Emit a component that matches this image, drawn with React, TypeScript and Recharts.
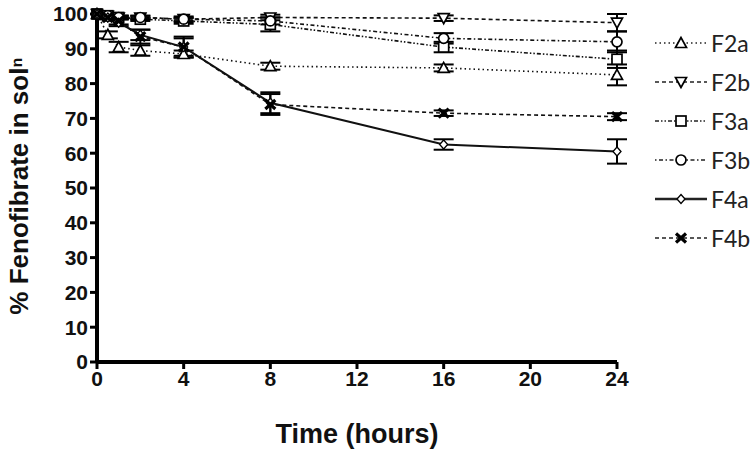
import React from 'react';
import { LineChart, Line, XAxis, YAxis, ErrorBar } from 'recharts';

const times = [0, 0.5, 1, 2, 4, 8, 16, 24];
const xTicks = [0, 4, 8, 12, 16, 20, 24];
const yTicks = [0, 10, 20, 30, 40, 50, 60, 70, 80, 90, 100];

const f2a = [100, 94, 90.5, 89.5, 88.5, 85, 84.5, 82.5];
const f2aErr = [0, 1, 1.5, 1.5, 1, 1, 1, 3];
const f2b = [100, 99.5, 99, 99, 98.5, 99, 98.8, 97.5];
const f2bErr = [0, 0.5, 0.5, 0.5, 0.5, 0.8, 0.8, 2.5];
const f3a = [100, 99.5, 99, 98.5, 98, 97, 90.5, 87];
const f3aErr = [0, 0.5, 0.5, 0.5, 0.8, 2, 1.5, 2.5];
const f3b = [100, 99.5, 99, 99, 98.5, 98, 93, 92];
const f3bErr = [0, 0.5, 0.5, 0.5, 0.8, 1, 1.5, 3];
const f4a = [100, 99, 97.5, 94, 90.5, 74.5, 62.5, 60.5];
const f4aErr = [0, 0.5, 1, 1.5, 2.5, 3, 1.5, 3.5];
const f4b = [100, 99, 98, 93.5, 90.5, 74, 71.5, 70.5];
const f4bErr = [0, 0.5, 1, 2, 3, 3, 0.8, 1];

const data = times.map((t, i) => ({
  t,
  f2a: f2a[i], f2aErr: f2aErr[i],
  f2b: f2b[i], f2bErr: f2bErr[i],
  f3a: f3a[i], f3aErr: f3aErr[i],
  f3b: f3b[i], f3bErr: f3bErr[i],
  f4a: f4a[i], f4aErr: f4aErr[i],
  f4b: f4b[i], f4bErr: f4bErr[i],
}));

type Shape = 'triUp' | 'triDown' | 'square' | 'circle' | 'diamond' | 'cross';

const series: { key: string; name: string; shape: Shape; dash: string }[] = [
  { key: 'f2a', name: 'F2a', shape: 'triUp', dash: '1.5 3' },
  { key: 'f2b', name: 'F2b', shape: 'triDown', dash: '4 3' },
  { key: 'f3a', name: 'F3a', shape: 'square', dash: '4 2 1.5 2 1.5 2' },
  { key: 'f3b', name: 'F3b', shape: 'circle', dash: '1.5 2.5 4 2.5' },
  { key: 'f4a', name: 'F4a', shape: 'diamond', dash: '' },
  { key: 'f4b', name: 'F4b', shape: 'cross', dash: '4 3' },
];

// open black-outlined markers, drawn by hand since recharts has no such symbols
const Marker = ({ cx, cy, shape }: { cx: number; cy: number; shape: Shape }) => {
  const s = 5.5;
  const common = { fill: '#fff', stroke: '#000', strokeWidth: 1.7 };
  switch (shape) {
    case 'triUp':
      return <polygon points={`${cx},${cy - s} ${cx - s},${cy + s - 1} ${cx + s},${cy + s - 1}`} {...common} />;
    case 'triDown':
      return <polygon points={`${cx},${cy + s} ${cx - s},${cy - s + 1} ${cx + s},${cy - s + 1}`} {...common} />;
    case 'square':
      return <rect x={cx - s + 0.5} y={cy - s + 0.5} width={2 * s - 1} height={2 * s - 1} {...common} />;
    case 'circle':
      return <circle cx={cx} cy={cy} r={s - 0.5} {...common} />;
    case 'diamond':
      return <polygon points={`${cx},${cy - 4.5} ${cx + 4},${cy} ${cx},${cy + 4.5} ${cx - 4},${cy}`} {...common} strokeWidth={1.3} />;
    case 'cross':
      return (
        <g stroke="#000" strokeWidth={3.2}>
          <line x1={cx - 5} y1={cy - 4.5} x2={cx + 5} y2={cy + 4.5} />
          <line x1={cx - 5} y1={cy + 4.5} x2={cx + 5} y2={cy - 4.5} />
        </g>
      );
  }
  return null;
};

const ChartLegend = () => (
  <div style={{ position: 'absolute', left: 653, top: 23, fontFamily: 'Lato, sans-serif', fontSize: 23, color: '#222' }}>
    {series.map((s) => (
      <div key={s.key} style={{ display: 'flex', alignItems: 'center', height: 39 }}>
        <svg width={56} height={20}>
          <line x1={2} y1={10} x2={54} y2={10} stroke="#222" strokeWidth={s.dash ? 1.5 : 2.5} strokeDasharray={s.dash} />
          <Marker cx={28} cy={10} shape={s.shape} />
        </svg>
        <span style={{ marginLeft: 2 }}>{s.name}</span>
      </div>
    ))}
  </div>
);

const YLabel = () => (
  <text
    x={19}
    y={186}
    transform="rotate(-90 19 186)"
    textAnchor="middle"
    dominantBaseline="central"
    fontFamily="'Liberation Sans', Arial, sans-serif"
    fontWeight="bold"
    fontSize={26}
    fill="#111"
  >
    % Fenofibrate in solⁿ
  </text>
);

const tickStyle = { fontFamily: "'Liberation Sans', Arial, sans-serif", fontWeight: 'bold', fontSize: 21, fill: '#111' };

export default function App() {
  return (
    <div style={{ position: 'absolute', left: 0, top: 0, width: 756, height: 449, background: '#fff' }}>
      <LineChart width={756} height={449} data={data} margin={{ top: 14, right: 139, bottom: 0, left: 0 }}>
        <XAxis
          dataKey="t"
          type="number"
          domain={[0, 24]}
          ticks={xTicks}
          interval={0}
          axisLine={{ stroke: '#000', strokeWidth: 4 }}
          tickLine={{ stroke: '#000', strokeWidth: 3 }}
          tickSize={7}
          tickMargin={2}
          tick={tickStyle}
          height={87}
          label={{
            value: 'Time (hours)',
            position: 'insideBottom',
            offset: 6,
            style: { fontFamily: "'Liberation Sans', Arial, sans-serif", fontWeight: 'bold', fontSize: 27, fill: '#111' },
          }}
        />
        <YAxis
          type="number"
          domain={[0, 100]}
          ticks={yTicks}
          interval={0}
          width={97}
          axisLine={{ stroke: '#000', strokeWidth: 4 }}
          tickLine={{ stroke: '#000', strokeWidth: 3 }}
          tickSize={7}
          tickMargin={2}
          tick={tickStyle}
          label={{ content: () => <YLabel /> }}
        />
        {series.map((s) => (
          <Line
            key={s.key}
            dataKey={s.key}
            name={s.name}
            stroke="#111"
            strokeWidth={s.dash ? 1.6 : 2}
            strokeDasharray={s.dash}
            isAnimationActive={false}
            activeDot={false}
            dot={(p: any) => <Marker key={`${s.key}-${p.index}`} cx={p.cx} cy={p.cy} shape={s.shape} />}
          >
            <ErrorBar dataKey={`${s.key}Err`} width={10} strokeWidth={2} stroke="#000" direction="y" isAnimationActive={false} />
          </Line>
        ))}
      </LineChart>
      <ChartLegend />
    </div>
  );
}
